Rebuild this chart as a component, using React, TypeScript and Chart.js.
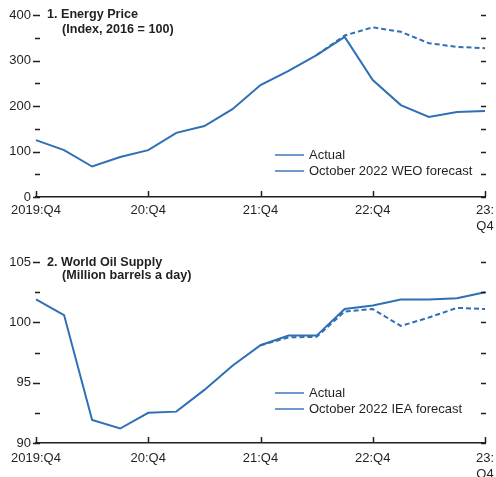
import React, { useEffect, useRef } from "react";
import { Chart, registerables } from "chart.js";

Chart.register(...registerables);

// ---------- DATA ----------
const quarters = [
  "2019:Q4", "2020:Q1", "2020:Q2", "2020:Q3", "2020:Q4",
  "2021:Q1", "2021:Q2", "2021:Q3", "2021:Q4",
  "2022:Q1", "2022:Q2", "2022:Q3", "2022:Q4",
  "2023:Q1", "2023:Q2", "2023:Q3", "2023:Q4",
];
const xTickIndex = [0, 4, 8, 12, 16];
const xTickLabels: (string | string[])[] = ["2019:Q4", "20:Q4", "21:Q4", "22:Q4", ["23:", "Q4"]];

const energyActual = [125, 103, 67, 88, 103, 141, 156, 193, 246, 277, 312, 352, 257, 202, 176, 187, 189];
const energyForecast = [null, null, null, null, null, null, null, null, null, null, 312, 355, 373, 363, 338, 330, 327];

const oilActual = [101.9, 100.6, 91.9, 91.2, 92.5, 92.6, 94.4, 96.4, 98.1, 98.9, 98.9, 101.1, 101.4, 101.9, 101.9, 102.0, 102.5];
const oilForecast = [null, null, null, null, null, null, null, null, 98.1, 98.75, 98.8, 100.9, 101.1, 99.7, 100.4, 101.2, 101.1];

const energyTitle = ["1. Energy Price", "(Index, 2016 = 100)"];
const oilTitle = ["2. World Oil Supply", "(Million barrels a day)"];
const energyLegend = ["Actual", "October 2022 WEO forecast"];
const oilLegend = ["Actual", "October 2022 IEA forecast"];

// ---------- STYLE ----------
const BLUE = "#2f6fb5";
const TEXT = "#231f20";
const FONT = "'Liberation Sans', Arial, sans-serif";

type PanelCfg = {
  height: number;
  padTop: number;
  xHeight: number;
  xPad: number;
  yMin: number;
  yMax: number;
  yStep: number;
  yMajor: number;
  actual: (number | null)[];
  forecast: (number | null)[];
  legend: string[];
  title: string[];
  titleY: [number, number];
  legendY: [number, number];
};

function makeDecor(cfg: PanelCfg) {
  return {
    id: "decor",
    afterDraw(chart: any) {
      const { ctx, chartArea, scales } = chart;
      const y = scales.y;
      const x = scales.x;
      ctx.save();
      ctx.strokeStyle = TEXT;
      ctx.lineWidth = 1.3;
      // y tick marks (inward, both sides)
      y.ticks.forEach((t: any) => {
        const py = Math.round(y.getPixelForValue(t.value)) + 0.5;
        const major = Math.abs(t.value / cfg.yMajor - Math.round(t.value / cfg.yMajor)) < 1e-6;
        ctx.beginPath();
        ctx.moveTo(chartArea.left + (major ? -3 : -1), py);
        ctx.lineTo(chartArea.left + 4, py);
        ctx.moveTo(chartArea.right - 4, py);
        ctx.lineTo(chartArea.right + 1, py);
        ctx.stroke();
      });
      // x tick marks (upward)
      ctx.lineWidth = 1.5;
      xTickIndex.forEach((i) => {
        const px = Math.round(x.getPixelForValue(i)) + 0.5;
        ctx.beginPath();
        ctx.moveTo(px, chartArea.bottom);
        ctx.lineTo(px, chartArea.bottom - 6);
        ctx.stroke();
      });
      // title
      ctx.fillStyle = TEXT;
      ctx.textBaseline = "middle";
      ctx.textAlign = "left";
      ctx.font = `bold 12.6px ${FONT}`;
      ctx.fillText(cfg.title[0], 47, cfg.titleY[0]);
      ctx.fillText(cfg.title[1], 62, cfg.titleY[1]);
      // legend
      ctx.font = `13px ${FONT}`;
      ctx.strokeStyle = BLUE;
      ctx.lineWidth = 1.4;
      cfg.legend.forEach((label, k) => {
        const ly = cfg.legendY[k];
        ctx.beginPath();
        ctx.moveTo(275, ly);
        ctx.lineTo(304, ly);
        ctx.stroke();
        ctx.fillText(label, 309, ly);
      });
      ctx.restore();
    },
  };
}

function Panel({ cfg }: { cfg: PanelCfg }) {
  const ref = useRef<HTMLCanvasElement | null>(null);
  useEffect(() => {
    if (!ref.current) return;
    const chart = new Chart(ref.current, {
      type: "line",
      data: {
        labels: quarters,
        datasets: [
          {
            label: cfg.legend[1],
            data: cfg.forecast,
            borderColor: BLUE,
            borderWidth: 2,
            borderDash: [5, 3],
            pointRadius: 0,
            tension: 0,
            fill: false,
            spanGaps: false,
            order: 1,
          },
          {
            label: cfg.legend[0],
            data: cfg.actual,
            borderColor: BLUE,
            borderWidth: 2,
            pointRadius: 0,
            tension: 0,
            fill: false,
            order: 2,
          },
        ],
      },
      options: {
        responsive: false,
        animation: false,
        events: [],
        layout: { padding: { left: 0, right: 11, top: cfg.padTop, bottom: 0 } },
        plugins: { legend: { display: false }, tooltip: { enabled: false }, title: { display: false } },
        scales: {
          x: {
            type: "category",
            offset: false,
            grid: { display: false, drawTicks: false, tickLength: 0 },
            border: { display: true, color: TEXT, width: 1.5 },
            ticks: {
              autoSkip: false,
              maxRotation: 0,
              minRotation: 0,
              padding: cfg.xPad,
              color: TEXT,
              font: { family: FONT, size: 13, lineHeight: 1.25 },
              callback: (_v: any, i: number) => {
                const k = xTickIndex.indexOf(i);
                return k >= 0 ? xTickLabels[k] : "";
              },
            },
            afterFit: (s: any) => {
              s.paddingLeft = 0;
              s.paddingRight = 0;
              s.height = cfg.xHeight;
            },
          },
          y: {
            min: cfg.yMin,
            max: cfg.yMax,
            grid: { display: false, drawTicks: false, tickLength: 0 },
            border: { display: false },
            ticks: {
              stepSize: cfg.yStep,
              padding: 5,
              color: TEXT,
              font: { family: FONT, size: 13 },
              callback: (v: any) => {
                const n = Number(v);
                return Math.abs(n / cfg.yMajor - Math.round(n / cfg.yMajor)) < 1e-6 ? String(n) : "";
              },
            },
            afterFit: (s: any) => {
              s.width = 36;
              s.paddingTop = 0;
              s.paddingBottom = 0;
            },
          },
        },
      },
      plugins: [makeDecor(cfg)],
    } as any);
    return () => chart.destroy();
  }, [cfg]);
  return (
    <canvas
      ref={ref}
      width={496}
      height={cfg.height}
      style={{ display: "block", width: 496, height: cfg.height }}
    />
  );
}

const energyCfg: PanelCfg = {
  height: 238,
  padTop: 15,
  xHeight: 238 - 197,
  xPad: 5,
  yMin: 0,
  yMax: 400,
  yStep: 50,
  yMajor: 100,
  actual: energyActual,
  forecast: energyForecast,
  legend: energyLegend,
  title: energyTitle,
  titleY: [15, 30],
  legendY: [155, 171],
};

const oilCfg: PanelCfg = {
  height: 239,
  padTop: 24,
  xHeight: 239 - 205,
  xPad: 7,
  yMin: 90,
  yMax: 105,
  yStep: 2.5,
  yMajor: 5,
  actual: oilActual,
  forecast: oilForecast,
  legend: oilLegend,
  title: oilTitle,
  titleY: [25, 38],
  legendY: [155, 171],
};

export default function App() {
  return (
    <div style={{ position: "absolute", left: 0, top: 0, width: 496, height: 477, background: "#fff", overflow: "hidden" }}>
      <Panel cfg={energyCfg} />
      <Panel cfg={oilCfg} />
    </div>
  );
}
